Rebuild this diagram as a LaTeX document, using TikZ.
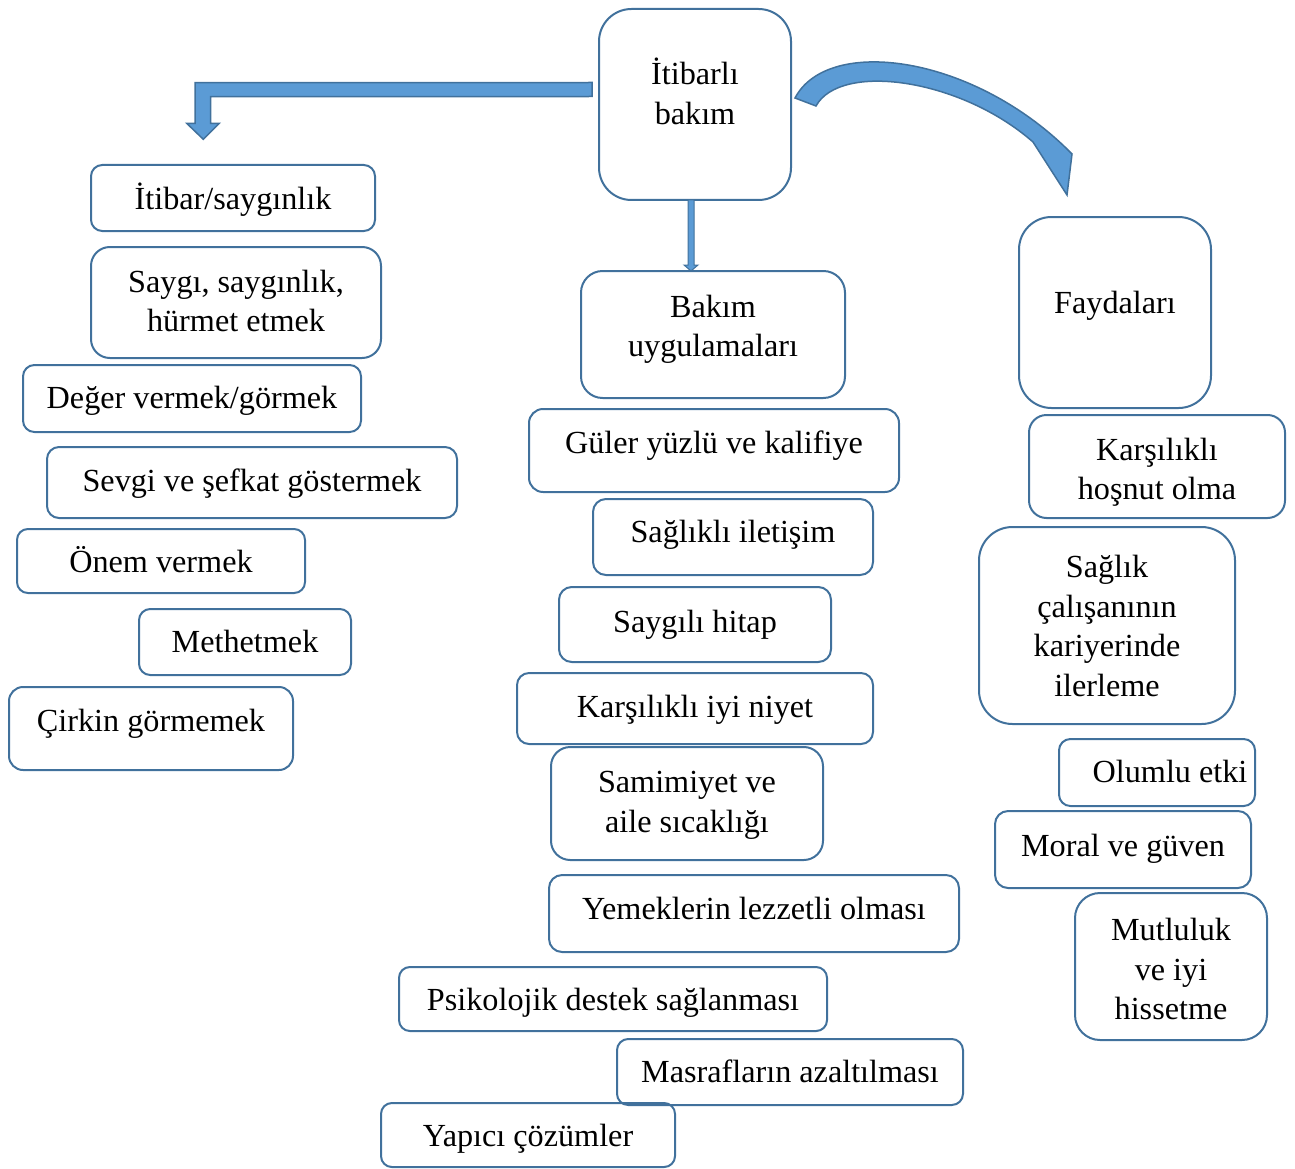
\documentclass[tikz,border=0pt]{standalone}
\usepackage{fontspec}
\setmainfont{Liberation Serif}
\usetikzlibrary{calc}
\definecolor{edgeblue}{HTML}{41719C}
\definecolor{fillblue}{HTML}{5B9BD5}
\newcommand\linestrut{\rule[-0.25em]{0pt}{1.2em}}

% \panel[text x shift]{name}{x1}{y1}{x2}{y2}{text y}{text}
\newcommand\panel[8][0]{%
  \pgfmathsetmacro\pw{#5-#3}\pgfmathsetmacro\ph{#6-#4}%
  \pgfmathsetmacro\pr{0.17*min(\pw,\ph)}%
  \node[box, rounded corners=\pr pt, minimum width=\pw pt, minimum height=\ph pt]
    (#2) at ({(#3+#5)/2},{(#4+#6)/2}) {};
  \node[txt] (#2-t) at ({(#3+#5)/2+#1},#7) {#8};
}

\begin{document}
\begin{tikzpicture}[x=1pt,y=-1pt,
  box/.style={draw=edgeblue, line width=2pt, inner sep=0pt, outer sep=0pt},
  txt/.style={align=center, inner sep=0pt, font=\fontsize{32.2}{39.5}\selectfont,
    execute at begin node=\linestrut, execute at end node=\linestrut},
  blockarrow/.style={fill=fillblue, draw=edgeblue, line width=1.5pt, line join=miter}]
\useasboundingbox (0,0) rectangle (1295,1169);

% root
\panel{root}{599}{9}{791}{200}{95}{İtibarlı\\bakım}

% left column
\panel{l1}{91}{165}{375}{231}{198}{İtibar/saygınlık}
\panel{l2}{91}{247}{381}{358}{305}{Saygı, saygınlık,\\hürmet etmek}
\panel{l3}{23}{365}{361}{432}{397}{Değer vermek/görmek}
\panel{l4}{47}{447}{457}{518}{480}{Sevgi ve şefkat göstermek}
\panel{l5}{17}{529}{305}{593}{561}{Önem vermek}
\panel{l6}{139}{609}{351}{675}{641}{Methetmek}
\panel{l7}{9}{687}{293}{770}{720}{Çirkin görmemek}

% centre column
\panel{c0}{581}{271}{845}{398}{330}{Bakım\\uygulamaları}
\panel{c1}{529}{409}{899}{492}{442}{Güler yüzlü ve kalifiye}
\panel{c2}{593}{499}{873}{575}{531}{Sağlıklı iletişim}
\panel{c3}{559}{587}{831}{662}{621}{Saygılı hitap}
\panel{c4}{517}{673}{873}{744}{706}{Karşılıklı iyi niyet}
\panel{c5}{551}{747}{823}{860}{806}{Samimiyet ve\\aile sıcaklığı}
\panel{c6}{549}{875}{959}{952}{908}{Yemeklerin lezzetli olması}
\panel{c7}{399}{967}{827}{1031}{999}{Psikolojik destek sağlanması}
\panel{c8}{617}{1039}{963}{1105}{1071}{Masrafların azaltılması}
\panel{c9}{381}{1103}{675}{1167}{1135}{Yapıcı çözümler}

% right column
\panel{r0}{1019}{217}{1211}{408}{302}{Faydaları}
\panel{r1}{1029}{415}{1285}{518}{473}{Karşılıklı\\hoşnut olma}
\panel{r2}{979}{527}{1235}{724}{630}{Sağlık\\çalışanının\\kariyerinde\\ilerleme}
\panel[13]{r3}{1059}{739}{1255}{806}{771}{Olumlu etki}
\panel{r4}{995}{811}{1251}{888}{845}{Moral ve güven}
\panel{r5}{1075}{893}{1267}{1040}{973}{Mutluluk\\ve iyi\\hissetme}

% bent arrow towards the left column
\coordinate (lstart) at ($(root.west)+(-7,-15)$);
\draw[blockarrow] ($(lstart)+(0,-7)$) -- (195,82.7) -- (195,123.3) -- (186.7,123.3)
  -- (203.3,139.3) -- (219.3,123.3) -- (210.7,123.3) -- (210.7,96.7)
  -- ($(lstart)+(0,7)$) -- cycle;

% curved arrow towards the right column
\draw[blockarrow] (795,98) .. controls (828,35) and (975,55) .. (1072,154)
  -- (1067,195) -- (1033,142) .. controls (960,78) and (840,62) .. (816,106) -- cycle;

% straight arrow to the care practices box
\coordinate (dtop) at ($(root.south)+(-4,0)$);
\coordinate (dtip) at (dtop |- c0.north);
\draw[blockarrow, line width=1pt] ($(dtop)+(-3,0)$) -- ($(dtop)+(3,0)$)
  -- ($(dtip)+(3,-6)$) -- ($(dtip)+(7,-6)$) -- (dtip)
  -- ($(dtip)+(-7,-6)$) -- ($(dtip)+(-3,-6)$) -- cycle;
\end{tikzpicture}
\end{document}
